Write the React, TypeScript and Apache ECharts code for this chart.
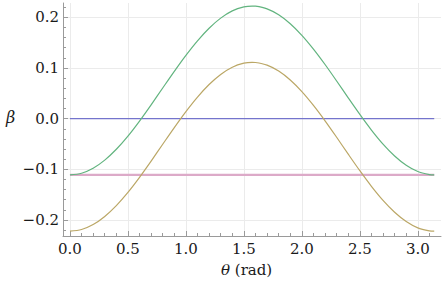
import React, { useEffect, useRef } from "react";
import * as echarts from "echarts";

const thetas = [0, 0.1, 0.2, 0.3, 0.4, 0.5, 0.6, 0.7, 0.8, 0.9, 1.0, 1.1, 1.2, 1.3, 1.4, 1.5, 1.571, 1.6, 1.7, 1.8, 1.9, 2.0, 2.1, 2.2, 2.3, 2.4, 2.5, 2.6, 2.7, 2.8, 2.9, 3.0, 3.1, 3.1416];
const greenValues = [-0.111, -0.1077, -0.0979, -0.0819, -0.0605, -0.0345, -0.0048, 0.0272, 0.0604, 0.0933, 0.1248, 0.1535, 0.1783, 0.1982, 0.2124, 0.2203, 0.222, 0.2217, 0.2165, 0.2048, 0.1872, 0.1643, 0.1371, 0.1067, 0.0742, 0.0409, 0.0083, -0.0225, -0.0502, -0.0736, -0.0919, -0.1044, -0.1104, -0.111];
const oliveValues = [-0.222, -0.2187, -0.2089, -0.1929, -0.1715, -0.1455, -0.1158, -0.0838, -0.0506, -0.0177, 0.0138, 0.0425, 0.0673, 0.0872, 0.1014, 0.1093, 0.111, 0.1107, 0.1055, 0.0938, 0.0762, 0.0533, 0.0261, -0.0043, -0.0368, -0.0701, -0.1027, -0.1335, -0.1612, -0.1846, -0.2029, -0.2154, -0.2214, -0.222];
const blueTheta = [0, 3.1416];
const blueValues = [0, 0];
const pinkTheta = [0, 3.1416];
const pinkValues = [-0.111, -0.111];

const xMajorTicks = [0, 0.5, 1.0, 1.5, 2.0, 2.5, 3.0];
const xMinorTicks = [0, 0.1, 0.2, 0.3, 0.4, 0.6, 0.7, 0.8, 0.9, 1.1, 1.2, 1.3, 1.4, 1.6, 1.7, 1.8, 1.9, 2.1, 2.2, 2.3, 2.4, 2.6, 2.7, 2.8, 2.9, 3.1];
const yMajorTicks = [-0.2, -0.1, 0, 0.1, 0.2];
const yMinorTicks = [-0.22, -0.18, -0.16, -0.14, -0.12, -0.08, -0.06, -0.04, -0.02, 0.02, 0.04, 0.06, 0.08, 0.12, 0.14, 0.16, 0.18, 0.22];

const FONT = "DejaVu Serif";
const AXIS_GRAY = "#9a9a9a";
const GRID_GRAY = "#ebebeb";
const TEXT = "#1a1a1a";

function fmt(v: number) {
  const s = Math.abs(v).toFixed(1);
  return v < -1e-9 ? "\u2212" + s : s;
}

function zip(xs: number[], ys: number[]) {
  return xs.map((x, i) => [x, ys[i]]);
}

export default function App() {
  const ref = useRef<HTMLDivElement>(null);
  useEffect(() => {
    if (!ref.current) return;
    const chart = echarts.init(ref.current, null, { renderer: "svg" });
    const xMin = -0.06, xMax = 3.2, yMin = -0.2315, yMax = 0.228;
    chart.setOption({
      animation: false,
      textStyle: { fontFamily: FONT },
      grid: { left: 63, right: 2, top: 3, bottom: 46, containLabel: false },
      xAxis: [
        {
          type: "value", min: xMin, max: xMax, position: "bottom",
          axisLine: { show: true, onZero: false, lineStyle: { color: AXIS_GRAY, width: 1 } },
          axisTick: { show: true, inside: true, length: 5, customValues: xMajorTicks, lineStyle: { color: AXIS_GRAY } },
          axisLabel: { show: true, customValues: xMajorTicks, formatter: (v: number) => fmt(v), fontFamily: FONT, fontSize: 15, color: TEXT, margin: 5 },
          splitLine: { show: true, lineStyle: { color: GRID_GRAY, width: 1 } },
        },
        {
          type: "value", min: xMin, max: xMax, position: "bottom",
          axisLine: { show: false, onZero: false },
          axisTick: { show: true, inside: true, length: 3, customValues: xMinorTicks, lineStyle: { color: AXIS_GRAY } },
          axisLabel: { show: false },
          splitLine: { show: false },
        },
      ],
      yAxis: [
        {
          type: "value", min: yMin, max: yMax, position: "left",
          axisLine: { show: true, onZero: false, lineStyle: { color: AXIS_GRAY, width: 1 } },
          axisTick: { show: true, inside: true, length: 5, customValues: yMajorTicks, lineStyle: { color: AXIS_GRAY } },
          axisLabel: { show: true, customValues: yMajorTicks, formatter: (v: number) => fmt(v), fontFamily: FONT, fontSize: 15, color: TEXT, margin: 4 },
          splitLine: { show: true, lineStyle: { color: GRID_GRAY, width: 1 } },
        },
        {
          type: "value", min: yMin, max: yMax, position: "left",
          axisLine: { show: false, onZero: false },
          axisTick: { show: true, inside: true, length: 3, customValues: yMinorTicks, lineStyle: { color: AXIS_GRAY } },
          axisLabel: { show: false },
          splitLine: { show: false },
        },
      ],
      graphic: [
        {
          type: "text", left: 6, top: 109,
          style: { text: "\u03b2", fontFamily: FONT, fontStyle: "italic", fontSize: 16, fill: TEXT },
        },
        {
          type: "text", left: 221, top: 262,
          style: {
            text: "{i|\u03b8} (rad)",
            rich: { i: { fontStyle: "italic", fontFamily: FONT, fontSize: 15, fill: TEXT } },
            fontFamily: FONT, fontSize: 15, fill: TEXT,
          },
        },
      ],
      series: [
        { type: "line", name: "pink", data: zip(pinkTheta, pinkValues), showSymbol: false, lineStyle: { color: "#dcaac8", width: 2.2 } },
        { type: "line", name: "blue", data: zip(blueTheta, blueValues), showSymbol: false, lineStyle: { color: "#7474cc", width: 1.3 } },
        { type: "line", name: "green", data: zip(thetas, greenValues), showSymbol: false, smooth: 0.3, lineStyle: { color: "#62b47f", width: 1.2 } },
        { type: "line", name: "olive", data: zip(thetas, oliveValues), showSymbol: false, smooth: 0.3, lineStyle: { color: "#bba766", width: 1.2 } },
      ],
    });
    return () => chart.dispose();
  }, []);
  return <div ref={ref} style={{ width: 443, height: 282, position: "absolute", left: 0, top: 0 }} />;
}
